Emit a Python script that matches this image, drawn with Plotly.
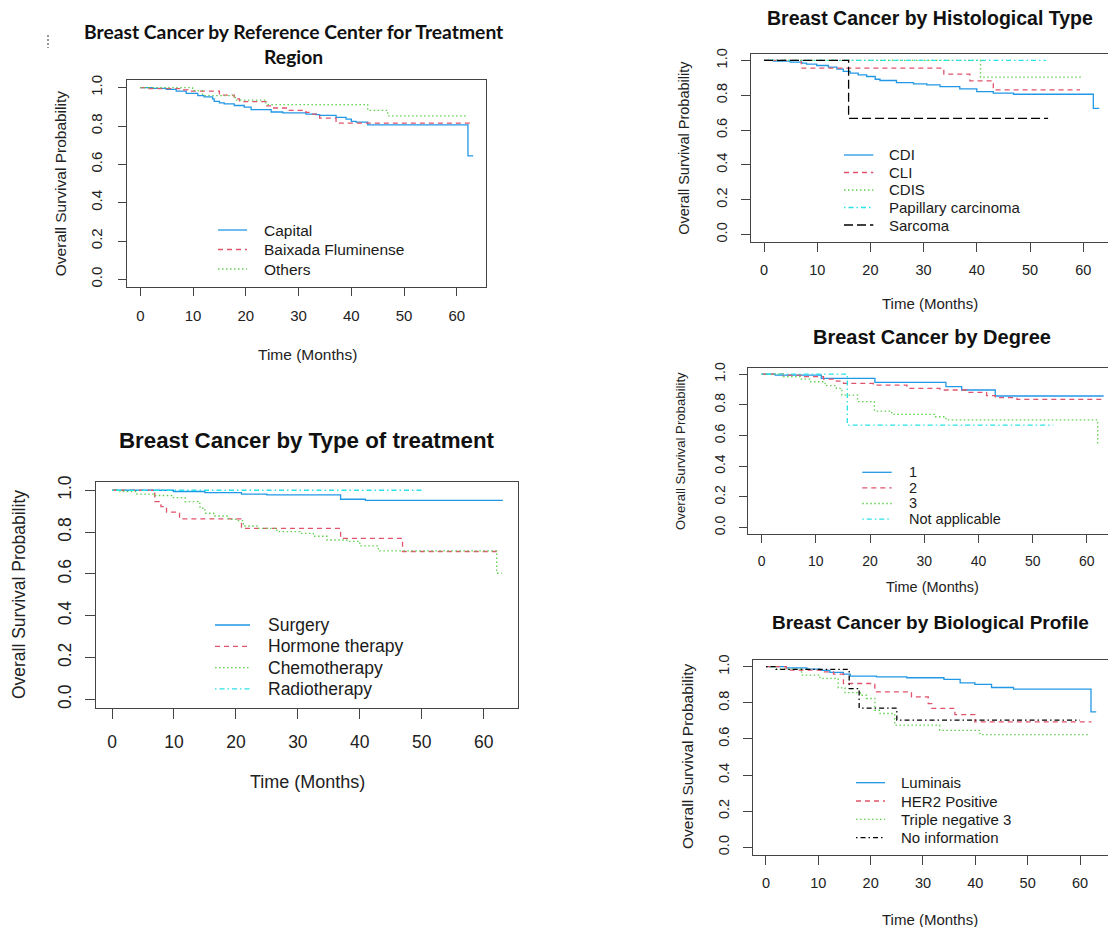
import plotly.graph_objects as go

W, H = 1108, 927

# ---------------- DATA ----------------
# Panel 1: Reference Center for Treatment Region
region_labels = ["Capital", "Baixada Fluminense", "Others"]
capital_t = [0, 2.3, 4.9, 6.8, 8.7, 10.9, 12.1, 13.7, 14.0, 15.0, 15.9, 17.8, 19.7, 21.0, 24.8, 27.0, 31.4, 33.3, 34.0, 37.1, 39.0, 40.0, 40.9, 43.1, 62.1, 63.1]
capital_s = [1.0, 0.996, 0.991, 0.982, 0.970, 0.959, 0.952, 0.942, 0.929, 0.921, 0.915, 0.907, 0.899, 0.885, 0.873, 0.868, 0.862, 0.859, 0.855, 0.845, 0.836, 0.824, 0.820, 0.806, 0.644, 0.644]
baixada_t = [0, 1.5, 7.7, 9.0, 15.0, 17.8, 18.8, 23.8, 25.1, 28.0, 31.4, 32.4, 34.0, 37.1, 63.2]
baixada_s = [1.0, 0.995, 0.988, 0.982, 0.961, 0.942, 0.927, 0.905, 0.894, 0.882, 0.871, 0.862, 0.841, 0.815, 0.815]
others_t = [0, 9.9, 11.8, 18.0, 23.8, 43.1, 46.9, 62.1]
others_s = [1.0, 0.985, 0.958, 0.935, 0.912, 0.882, 0.853, 0.853]

# Panel 2: Histological Type
hist_labels = ["CDI", "CLI", "CDIS", "Papillary carcinoma", "Sarcoma"]
cdi_t = [0, 1.75, 4.9, 7.1, 8.0, 9.9, 12.1, 13.7, 14.9, 16.2, 17.7, 19.3, 20.9, 21.8, 24.9, 28.1, 30.6, 33.1, 36.8, 40.0, 43.1, 46.9, 61.9, 63.0]
cdi_s = [1.0, 0.996, 0.990, 0.985, 0.979, 0.971, 0.962, 0.950, 0.937, 0.927, 0.917, 0.908, 0.892, 0.885, 0.873, 0.865, 0.860, 0.850, 0.837, 0.821, 0.812, 0.806, 0.725, 0.725]
cli_t = [0, 7.0, 33.8, 38.7, 43.1, 59.4]
cli_s = [1.0, 0.956, 0.921, 0.883, 0.831, 0.831]
cdis_t = [0, 40.7, 60.0]
cdis_s = [1.0, 0.904, 0.904]
papillary_t = [0, 53.0]
papillary_s = [1.0, 1.0]
sarcoma_t = [0, 15.9, 53.4]
sarcoma_s = [1.0, 0.667, 0.667]

# Panel 3: Type of treatment
treat_labels = ["Surgery", "Hormone therapy", "Chemotherapy", "Radiotherapy"]
surgery_t = [0, 9.9, 15.0, 20.9, 25.0, 36.9, 40.9, 63.1]
surgery_s = [1.0, 0.994, 0.989, 0.982, 0.978, 0.957, 0.952, 0.952]
hormone_t = [0, 6.9, 7.9, 8.8, 10.9, 20.9, 36.9, 46.9, 62.5]
hormone_s = [1.0, 0.946, 0.922, 0.895, 0.863, 0.818, 0.770, 0.707, 0.707]
chemo_t = [0, 1.3, 4.0, 6.9, 9.9, 11.8, 13.9, 14.2, 15.0, 16.4, 18.8, 20.1, 21.2, 23.4, 26.6, 30.3, 32.5, 34.7, 37.9, 40.0, 43.0, 62.1, 62.9]
chemo_s = [1.0, 0.994, 0.982, 0.975, 0.965, 0.946, 0.937, 0.914, 0.890, 0.877, 0.861, 0.855, 0.829, 0.818, 0.802, 0.794, 0.780, 0.762, 0.756, 0.734, 0.710, 0.603, 0.603]
radio_t = [0, 50.0]
radio_s = [1.0, 1.0]

# Panel 4: Degree
degree_labels = ["1", "2", "3", "Not applicable"]
deg1_t = [0, 2.5, 11.0, 20.9, 34.0, 36.9, 43.1, 63.1]
deg1_s = [1.0, 0.993, 0.972, 0.946, 0.918, 0.896, 0.857, 0.857]
deg2_t = [0, 4.0, 7.7, 11.4, 13.8, 15.1, 20.6, 26.8, 32.9, 37.8, 41.5, 43.1, 47.1, 62.8]
deg2_s = [1.0, 0.993, 0.983, 0.967, 0.954, 0.939, 0.928, 0.907, 0.896, 0.881, 0.859, 0.846, 0.835, 0.835]
deg3_t = [0, 4.0, 7.1, 8.9, 11.7, 13.8, 14.8, 17.7, 20.8, 24.0, 31.9, 34.0, 62.0, 62.2]
deg3_s = [1.0, 0.983, 0.967, 0.950, 0.924, 0.907, 0.863, 0.820, 0.759, 0.738, 0.722, 0.701, 0.538, 0.538]
degna_t = [0, 15.8, 53.8]
degna_s = [1.0, 0.668, 0.668]

# Panel 5: Biological Profile
bio_labels = ["Luminais", "HER2 Positive", "Triple negative 3", "No information"]
lum_t = [0, 3.9, 7.8, 10.3, 12.2, 14.8, 16.1, 21.1, 26.9, 34.0, 37.1, 39.9, 43.1, 47.3, 62.1, 63.1]
lum_s = [1.0, 0.994, 0.987, 0.980, 0.969, 0.959, 0.948, 0.944, 0.939, 0.930, 0.911, 0.902, 0.885, 0.876, 0.750, 0.750]
her2_t = [0, 3.9, 11.0, 12.9, 14.8, 20.8, 27.8, 31.0, 31.7, 36.1, 39.9, 62.2]
her2_s = [1.0, 0.981, 0.972, 0.959, 0.907, 0.861, 0.833, 0.796, 0.769, 0.735, 0.694, 0.694]
tneg_t = [0, 2.0, 6.8, 10.3, 13.8, 15.1, 18.0, 19.2, 20.8, 21.8, 24.6, 33.2, 40.9, 61.6]
tneg_s = [1.0, 0.987, 0.954, 0.935, 0.883, 0.857, 0.842, 0.824, 0.759, 0.741, 0.676, 0.648, 0.624, 0.624]
noinfo_t = [0, 1.9, 15.9, 17.8, 25.0, 60.0]
noinfo_s = [1.0, 0.985, 0.879, 0.771, 0.704, 0.704]

x_ticks = [0, 10, 20, 30, 40, 50, 60]
y_ticks = [0.0, 0.2, 0.4, 0.6, 0.8, 1.0]

# ---------------- STYLE ----------------
BLUE, RED, GREEN, CYAN, BLACK = "#2297E6", "#DF536B", "#61D04F", "#28E2E5", "#000000"
SOLID, DASHED, DOTTED, DOTDASH, LONGDASH = "solid", "5px,4px", "1.5px,2.5px", "1.5px,3px,5px,3px", "9px,4px"
AX = "#444444"
FONT = "Liberation Sans, Arial, sans-serif"


def px(x):
    return x / W


def py(y):
    return 1 - y / H


panels = [
    dict(series=[(capital_t, capital_s), (baixada_t, baixada_s), (others_t, others_s)],
         labels=region_labels, colors=[BLUE, RED, GREEN], dashes=[SOLID, DASHED, DOTTED],
         box=(127, 486, 80, 287), xr=[-2.52, 65.52], mirror=True, fs=15, tl=8, xs=7, ys=10, ylfs=15.5,
         title=("Breast Cancer by Reference Center for Treatment<br>Region", 294, 44.5, "Lato, sans-serif", 19.3),
         xt=(307, 354), yt=(60.7, 183.5),
         leg=(218, 247, 261.7, 230, 19.5, 15.5)),
    dict(series=[(cdi_t, cdi_s), (cli_t, cli_s), (cdis_t, cdis_s), (papillary_t, papillary_s), (sarcoma_t, sarcoma_s)],
         labels=hist_labels, colors=[BLUE, RED, GREEN, CYAN, BLACK], dashes=[SOLID, DASHED, DOTTED, DOTDASH, LONGDASH],
         box=(750.6, 1108, 53.5, 241.5), xr=[-2.52, 64.66], mirror=False, fs=14.5, tl=9, xs=6, ys=8, ylfs=14.5,
         title=("Breast Cancer by Histological Type", 930, 18.3, FONT, 19.5),
         xt=(930, 303.3), yt=(683.3, 147.5),
         leg=(844, 873.3, 887.3, 155, 17.5, 15)),
    dict(series=[(surgery_t, surgery_s), (hormone_t, hormone_s), (chemo_t, chemo_s), (radio_t, radio_s)],
         labels=treat_labels, colors=[BLUE, RED, GREEN, CYAN], dashes=[SOLID, DASHED, DOTTED, DOTDASH],
         box=(96.4, 517.9, 481.9, 707.7), xr=[-2.52, 65.52], mirror=True, fs=17.5, tl=10, xs=8, ys=7, ylfs=17.5,
         title=("Breast Cancer by Type of treatment", 307, 440, FONT, 22.3),
         xt=(307, 781.7), yt=(18.3, 594.8),
         leg=(215, 250, 266, 625, 21.3, 17.5)),
    dict(series=[(deg1_t, deg1_s), (deg2_t, deg2_s), (deg3_t, deg3_s), (degna_t, degna_s)],
         labels=degree_labels, colors=[BLUE, RED, GREEN, CYAN], dashes=[SOLID, DASHED, DOTTED, DOTDASH],
         box=(748, 1108, 367.9, 533.8), xr=[-2.52, 63.9], mirror=False, fs=14, tl=8, xs=6, ys=8, ylfs=13.2,
         title=("Breast Cancer by Degree", 931.7, 337.3, FONT, 20),
         xt=(932, 587), yt=(681, 450.9),
         leg=(862.3, 891.7, 906.7, 472.3, 15.6, 14.5)),
    dict(series=[(lum_t, lum_s), (her2_t, her2_s), (tneg_t, tneg_s), (noinfo_t, noinfo_s)],
         labels=bio_labels, colors=[BLUE, RED, GREEN, BLACK], dashes=[SOLID, DASHED, DOTTED, DOTDASH],
         box=(752.8, 1108, 659.5, 854.5), xr=[-2.52, 65.35], mirror=False, fs=14.5, tl=9, xs=6, ys=8, ylfs=15.5,
         title=("Breast Cancer by Biological Profile", 930, 622, FONT, 19),
         xt=(930, 919), yt=(687, 757),
         leg=(856, 885, 899, 782.7, 18.3, 15)),
]

fig = go.Figure()
shapes = []
annotations = []
layout_axes = {}

for i, p in enumerate(panels):
    n = "" if i == 0 else str(i + 1)
    xa, ya = "x" + n, "y" + n
    for (t, s), c, d in zip(p["series"], p["colors"], p["dashes"]):
        fig.add_trace(go.Scatter(x=t, y=s, mode="lines", xaxis=xa, yaxis=ya, showlegend=False,
                                 line=dict(shape="hv", color=c, width=1.3, dash=d), hoverinfo="skip"))
    x0, x1, y0, y1 = p["box"]
    common = dict(showline=True, linecolor=AX, linewidth=1.2, ticks="outside", ticklen=p["tl"],
                  tickcolor=AX, tickwidth=1.2, showgrid=False, zeroline=False, automargin=False,
                  tickfont=dict(family=FONT, size=p["fs"], color="#222"))
    layout_axes["xaxis" + n] = dict(common, domain=[px(x0), min(1.0, px(x1))], range=p["xr"],
                                    anchor=ya, tickvals=x_ticks, mirror=True, ticklabelstandoff=p["xs"])
    layout_axes["yaxis" + n] = dict(common, domain=[py(y1), py(y0)], range=[-0.04, 1.04],
                                    anchor=xa, tickvals=y_ticks, tickformat=".1f", tickangle=-90,
                                    mirror=p["mirror"], ticklabelstandoff=p["ys"])
    # titles
    txt, tx, ty, tfam, tsz = p["title"]
    annotations.append(dict(text="<b>" + txt.replace("<br>", "</b><br><b>") + "</b>", x=px(tx), y=py(ty),
                            xref="paper", yref="paper", xanchor="center", yanchor="middle",
                            showarrow=False, font=dict(family=tfam, size=tsz, color="#111")))
    annotations.append(dict(text="Time (Months)", x=px(p["xt"][0]), y=py(p["xt"][1]), xref="paper", yref="paper",
                            xanchor="center", yanchor="middle", showarrow=False,
                            font=dict(family=FONT, size=p["fs"] + 0.5, color="#222")))
    annotations.append(dict(text="Overall Survival Probability", x=px(p["yt"][0]), y=py(p["yt"][1]),
                            xref="paper", yref="paper", xanchor="center", yanchor="middle", textangle=-90,
                            showarrow=False, font=dict(family=FONT, size=p["ylfs"], color="#222")))
    # legend
    lx0, lx1, ltx, ly0, ldy, lfs = p["leg"]
    for k, (lab, c, d) in enumerate(zip(p["labels"], p["colors"], p["dashes"])):
        yy = ly0 + k * ldy
        shapes.append(dict(type="line", xref="paper", yref="paper", x0=px(lx0), x1=px(lx1), y0=py(yy), y1=py(yy),
                           line=dict(color=c, width=1.3, dash=d)))
        annotations.append(dict(text=lab, x=px(ltx), y=py(yy), xref="paper", yref="paper", xanchor="left",
                                yanchor="middle", showarrow=False, font=dict(family=FONT, size=lfs, color="#1a1a1a")))

# small dotted artifact at top-left
shapes.append(dict(type="line", xref="paper", yref="paper", x0=px(48), x1=px(48), y0=py(35), y1=py(48),
                   line=dict(color="#333", width=1, dash="2px,2px")))

fig.update_layout(width=W, height=H, margin=dict(l=0, r=0, t=0, b=0, pad=0, autoexpand=False), autosize=False,
                  paper_bgcolor="white", plot_bgcolor="white", showlegend=False,
                  shapes=shapes, annotations=annotations, **layout_axes)

post = ("document.documentElement.style.margin='0';document.documentElement.style.overflow='hidden';"
        "document.body.style.margin='0';document.body.style.padding='0';document.body.style.overflow='hidden';"
        "var d=document.getElementById('{plot_id}');d.style.position='absolute';d.style.top='0px';d.style.left='0px';")
fig.write_html("out.html", config={"displayModeBar": False}, post_script=post)
